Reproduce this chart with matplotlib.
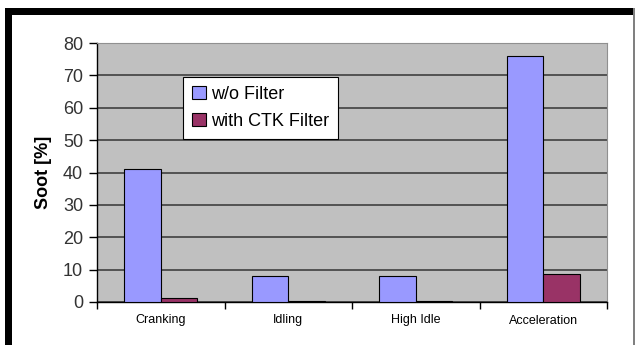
import matplotlib
matplotlib.use('Agg')
import matplotlib.pyplot as plt
from matplotlib.patches import Rectangle
import numpy as np

# Soot measurements per engine mode
modes = ['Cranking', 'Idling', 'High Idle', 'Acceleration']
soot_no_filter = [41, 8, 8, 76]
soot_ctk_filter = [1.3, 0.3, 0.3, 8.6]
series_names = ['w/o Filter', 'with CTK Filter']
y_ticks = [0, 10, 20, 30, 40, 50, 60, 70, 80]

plt.rcParams['font.family'] = ['Liberation Sans', 'DejaVu Sans']

W, H = 635, 345
fig = plt.figure(figsize=(W / 100, H / 100), dpi=100)
fig.patch.set_facecolor('white')

# black frame on the top and left, thin grey line on the right
fig.patches.append(Rectangle((5 / W, 0), 7 / W, (H - 8) / H, transform=fig.transFigure,
                             facecolor='black', edgecolor='none'))
fig.patches.append(Rectangle((5 / W, (H - 15) / H), (W - 5) / W, 7 / H, transform=fig.transFigure,
                             facecolor='black', edgecolor='none'))
fig.patches.append(Rectangle((633 / W, 0), 1.5 / W, (H - 8) / H, transform=fig.transFigure,
                             facecolor='#808080', edgecolor='none'))

ax = fig.add_axes([97 / W, (H - 302) / H, 510 / W, 259 / H])
ax.set_facecolor('#C0C0C0')

x = np.arange(len(modes))
w = 1 / 3.5
ax.bar(x - w / 2, soot_no_filter, w, color='#9999FF', edgecolor='black', linewidth=0.8,
       label=series_names[0], zorder=3)
ax.bar(x + w / 2, soot_ctk_filter, w, color='#993366', edgecolor='black', linewidth=0.8,
       label=series_names[1], zorder=3)

ax.set_xlim(-0.5, len(modes) - 0.5)
ax.set_ylim(0, 80)
ax.set_yticks(y_ticks)
ax.yaxis.grid(True, color='#404040', linewidth=1.2, zorder=1)
ax.tick_params(axis='y', direction='out', length=6, width=1, labelsize=13,
               labelcolor='#333333', pad=4)

# category labels at the centres, tick marks on the boundaries
ax.set_xticks(x)
ax.set_xticklabels(modes, fontsize=9)
ax.tick_params(axis='x', which='major', length=0, pad=9)
ax.set_xticks(np.arange(-0.5, len(modes)), minor=True)
ax.tick_params(axis='x', which='minor', direction='out', length=5, width=1)

for side in ['top', 'right']:
    ax.spines[side].set_color('#909090')
for side in ['left', 'bottom']:
    ax.spines[side].set_color('black')
    ax.spines[side].set_linewidth(1.0)

ax.set_ylabel('Soot [%]', fontsize=13, fontweight='bold', labelpad=8)

leg = ax.legend(loc='upper left', bbox_to_anchor=((183 - 97) / 510, (302 - 77) / 259),
                fontsize=13, frameon=True, fancybox=False, framealpha=1,
                edgecolor='black', handlelength=0.75, handleheight=0.75,
                handletextpad=0.3, borderpad=0.5, labelspacing=0.55,
                borderaxespad=0)
leg.get_frame().set_linewidth(0.8)

fig.savefig('out.png', dpi=100)
